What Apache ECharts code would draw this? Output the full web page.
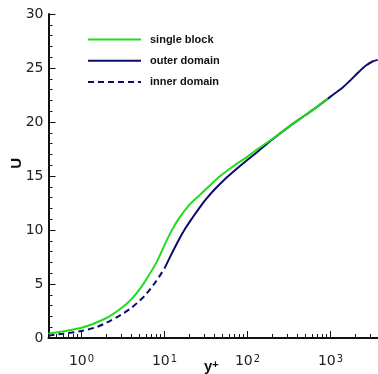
<!DOCTYPE html>
<html>
<head>
<meta charset="utf-8">
<script src="https://cdn.jsdelivr.net/npm/echarts@6/dist/echarts.min.js"></script>
<style>
  html, body { margin: 0; padding: 0; background: #fff; }
  #chart { width: 378px; height: 374px; }
</style>
</head>
<body>
<div id="chart"></div>
<script>
// Mean velocity profile U versus y+ (log scale) for three computations.
const seriesNames = ['single block', 'outer domain', 'inner domain'];

const yPlusSingle = [0.4, 1, 2, 3, 4, 5, 6, 8, 10, 12, 15, 20, 26.6, 35, 46, 70, 100, 130, 200, 320, 500, 700, 930];
const uSingle     = [0.42, 0.95, 1.85, 2.75, 3.6, 4.5, 5.4, 7.0, 8.6, 9.85, 11.1, 12.35, 13.25, 14.1, 14.95, 16.0, 16.8, 17.45, 18.45, 19.6, 20.65, 21.45, 22.2];

const yPlusOuter = [10, 12, 15, 18, 22, 26.6, 32, 40, 50, 70, 100, 130, 200, 320, 500, 700, 1000, 1400, 1700, 2200, 2700, 3200, 3700];
const uOuter     = [6.45, 7.7, 9.15, 10.2, 11.2, 12.1, 12.9, 13.75, 14.5, 15.5, 16.5, 17.2, 18.4, 19.6, 20.65, 21.45, 22.35, 23.2, 23.8, 24.65, 25.25, 25.6, 25.75];

const yPlusInner = [0.4, 0.6, 1, 1.5, 2, 3, 4, 5, 6, 8, 10];
const uInner     = [0.22, 0.4, 0.65, 1.0, 1.42, 2.15, 2.8, 3.45, 4.05, 5.3, 6.45];

// Axis extents and tick values
const xMin = 0.4;
const xMax = 3730;
const xMajorTicks = [1, 10, 100, 1000];
const xMinorTicks = [0.5, 0.6, 0.7, 0.8, 0.9, 2, 3, 4, 5, 6, 7, 8, 9, 20, 30, 40, 50, 60, 70, 80, 90,
                     200, 300, 400, 500, 600, 700, 800, 900, 2000, 3000];
const yMin = 0, yMax = 30, yStep = 5;

const zip = (xs, ys) => xs.map((x, i) => [x, ys[i]]);

const GREEN = '#1fdc1f';
const NAVY = '#0b0b6b';
const AXIS = '#111';

const chart = echarts.init(document.getElementById('chart'), null, { renderer: 'canvas' });

const xAxisBase = {
  type: 'log',
  logBase: 10,
  position: 'bottom',
  min: xMin,
  max: xMax,
  splitLine: { show: false },
  minorSplitLine: { show: false }
};

chart.setOption({
  animation: false,
  backgroundColor: '#fff',
  grid: { left: 48.5, right: 0, top: 14, bottom: 36, containLabel: false },
  legend: {
    orient: 'vertical',
    left: 87,
    top: 34,
    itemWidth: 53,
    itemHeight: 14,
    itemGap: 10,
    padding: 0,
    data: seriesNames,
    itemStyle: { opacity: 0 },
    textStyle: { fontFamily: 'Liberation Sans', fontWeight: 'bold', fontSize: 11, color: '#111', padding: [0, 0, 0, 4] }
  },
  xAxis: [
    Object.assign({}, xAxisBase, {
      axisLine: { show: true, lineStyle: { color: AXIS, width: 2 } },
      axisTick: { show: true, inside: true, length: 7, lineStyle: { color: AXIS, width: 1 }, customValues: xMajorTicks },
      minorTick: { show: false },
      axisLabel: {
        show: true,
        margin: 16,
        customValues: xMajorTicks,
        formatter: function (v) {
          const e = Math.round(Math.log10(v));
          return '{b|10}{s|' + e + '}';
        },
        rich: {
          b: { fontFamily: 'DejaVu Sans', fontSize: 14, color: '#222' },
          s: { fontFamily: 'DejaVu Sans', fontSize: 10, color: '#222', verticalAlign: 'top', padding: [0, 0, 0, 1] }
        }
      }
    }),
    Object.assign({}, xAxisBase, {
      axisLine: { show: false },
      axisTick: { show: true, inside: true, length: 4, lineStyle: { color: AXIS, width: 1 }, customValues: xMinorTicks },
      axisLabel: { show: false }
    })
  ],
  yAxis: {
    type: 'value',
    min: yMin,
    max: yMax,
    interval: yStep,
    splitLine: { show: false },
    axisLine: { show: true, lineStyle: { color: AXIS, width: 2 } },
    axisTick: { show: true, inside: true, length: 7, lineStyle: { color: AXIS, width: 1 } },
    minorTick: { show: true, splitNumber: 5, length: 4, lineStyle: { color: AXIS, width: 1 } },
    axisLabel: { fontFamily: 'DejaVu Sans', fontSize: 14, color: '#222', margin: 5 }
  },
  graphic: [
    {
      type: 'text',
      left: 9, top: 158,
      rotation: Math.PI / 2,
      style: { text: 'U', fontFamily: 'Liberation Sans', fontWeight: 'bold', fontSize: 15, fill: '#111' }
    },
    {
      type: 'text',
      left: 204, top: 359,
      style: {
        text: '{b|y}{s|+}',
        rich: {
          b: { fontFamily: 'Liberation Sans', fontWeight: 'bold', fontSize: 15, fill: '#111' },
          s: { fontFamily: 'Liberation Sans', fontWeight: 'bold', fontSize: 11, fill: '#111', verticalAlign: 'top' }
        }
      }
    }
  ],
  series: [
    {
      name: seriesNames[0], type: 'line', smooth: 0.3, symbol: 'none',
      data: zip(yPlusSingle, uSingle),
      lineStyle: { color: GREEN, width: 2 }, itemStyle: { color: GREEN }, z: 3
    },
    {
      name: seriesNames[1], type: 'line', smooth: 0.3, symbol: 'none',
      data: zip(yPlusOuter, uOuter),
      lineStyle: { color: NAVY, width: 2 }, itemStyle: { color: NAVY }, z: 2
    },
    {
      name: seriesNames[2], type: 'line', smooth: 0.3, symbol: 'none',
      data: zip(yPlusInner, uInner),
      lineStyle: { color: NAVY, width: 2, type: [6, 4] }, itemStyle: { color: NAVY }, z: 2
    }
  ]
});
</script>
</body>
</html>
